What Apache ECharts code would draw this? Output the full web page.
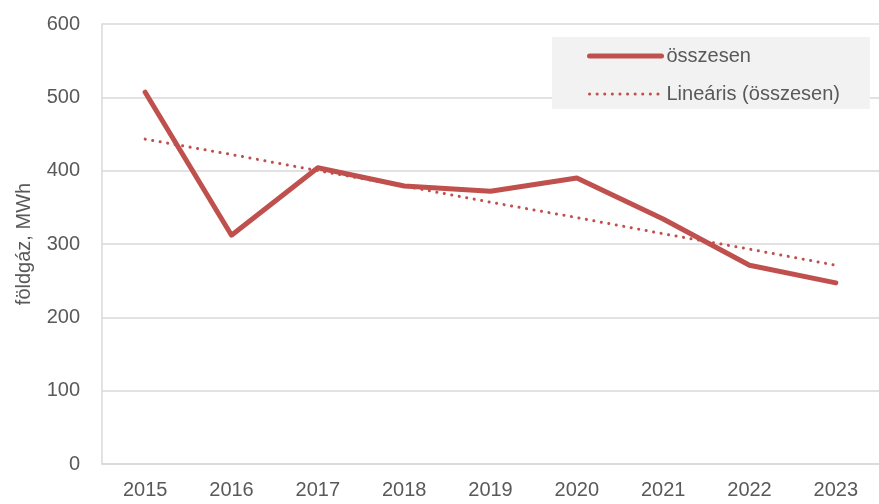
<!DOCTYPE html>
<html>
<head>
<meta charset="utf-8">
<script src="https://cdn.jsdelivr.net/npm/echarts@6/dist/echarts.min.js"></script>
<style>
  html, body { margin: 0; padding: 0; background: #fff; }
  #chart { width: 879px; height: 504px; }
</style>
</head>
<body>
<div id="chart"></div>
<script>
// adatok
let years = ['2015', '2016', '2017', '2018', '2019', '2020', '2021', '2022', '2023']
let osszesen = [507, 312, 404, 379, 372, 390, 334, 271, 247]
let linearis = [443, 422, 400, 379, 357, 336, 314, 293, 271]
let yTicks = [0, 100, 200, 300, 400, 500, 600]

let font = '"Liberation Sans", Arial, sans-serif'
let red = '#c0504d'
let grey = '#595959'
let dots = [0.1, 7.5]

let myChart = echarts.init(document.getElementById('chart'))

let option = {
    animation: false,
    grid: {
        left: 102,
        right: 0,
        top: 24,
        bottom: 40
    },
    legend: {
        orient: 'vertical',
        left: 552,
        top: 37,
        backgroundColor: '#f2f2f2',
        padding: [9, 30, 5, 35],
        itemWidth: 72,
        itemHeight: 14,
        itemGap: 18,
        itemStyle: { opacity: 0 },
        textStyle: {
            color: grey,
            fontFamily: font,
            fontSize: 20,
            lineHeight: 20
        },
        data: [{
            name: 'összesen',
            lineStyle: { color: red, width: 5, type: 'solid', cap: 'round' }
        }, {
            name: 'Lineáris (összesen)',
            lineStyle: { color: red, width: 3, type: dots, cap: 'round' }
        }]
    },
    xAxis: {
        type: 'category',
        data: years,
        boundaryGap: true,
        axisLine: { show: true, lineStyle: { color: '#d9d9d9', width: 1.5 } },
        axisTick: { show: false },
        axisLabel: {
            color: grey,
            fontFamily: font,
            fontSize: 20,
            margin: 16
        }
    },
    yAxis: {
        type: 'value',
        min: yTicks[0],
        max: yTicks[yTicks.length - 1],
        interval: 100,
        name: 'földgáz, MWh',
        nameLocation: 'middle',
        nameGap: 68,
        nameTextStyle: {
            color: grey,
            fontFamily: font,
            fontSize: 20
        },
        axisLine: { show: true, lineStyle: { color: '#d9d9d9', width: 1.5 } },
        axisTick: { show: false },
        axisLabel: {
            color: grey,
            fontFamily: font,
            fontSize: 20,
            margin: 22
        },
        splitLine: {
            show: true,
            lineStyle: { color: '#d9d9d9', width: 1.5 }
        }
    },
    series: [{
        name: 'összesen',
        type: 'line',
        data: osszesen,
        symbol: 'none',
        itemStyle: { color: red },
        lineStyle: { color: red, width: 5, cap: 'round', join: 'round' },
        z: 3
    }, {
        name: 'Lineáris (összesen)',
        type: 'line',
        data: linearis,
        symbol: 'none',
        itemStyle: { color: red },
        lineStyle: { color: red, width: 3, type: dots, cap: 'round' },
        z: 2
    }]
}

myChart.setOption(option)
</script>
</body>
</html>
